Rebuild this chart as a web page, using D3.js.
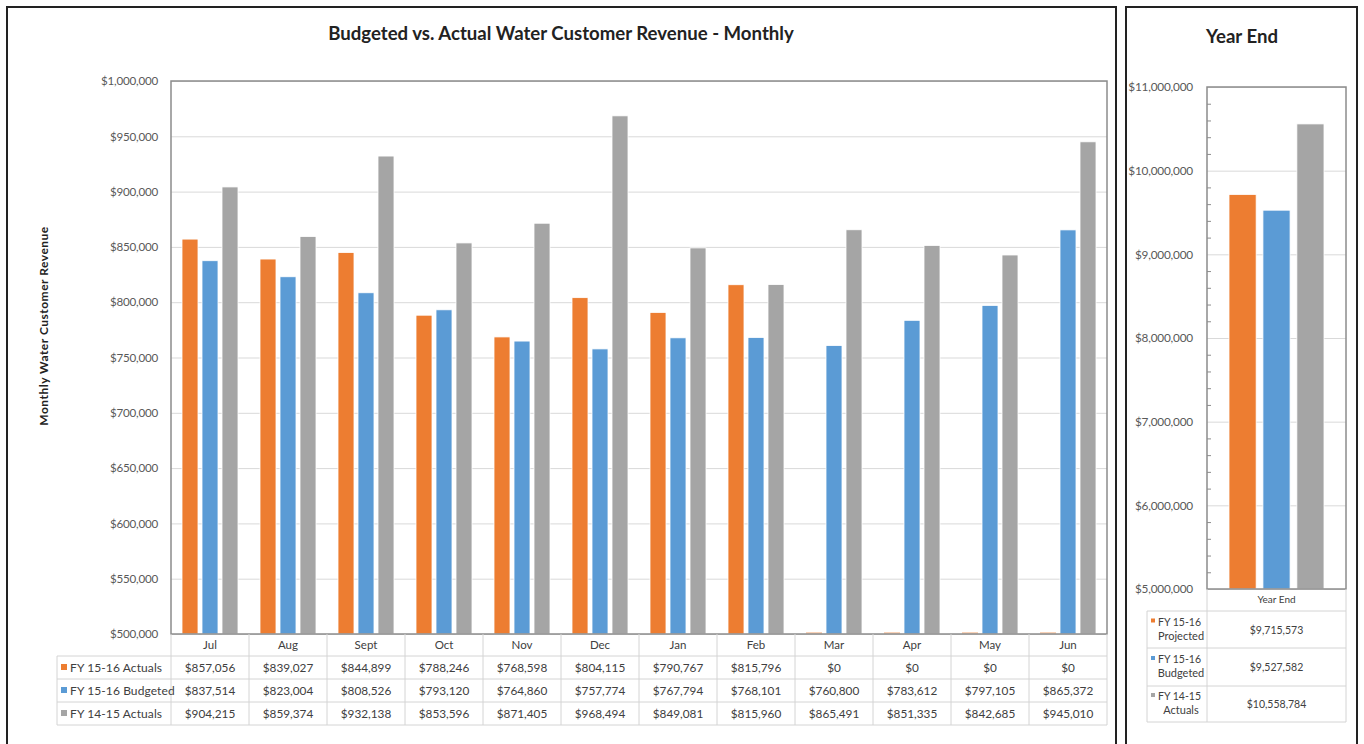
<!DOCTYPE html>
<html>
<head>
<meta charset="utf-8">
<script src="https://cdnjs.cloudflare.com/ajax/libs/d3/7.8.5/d3.min.js"></script>
<style>
  body { margin: 0; background: #fff; }
  svg { font-family: Lato, "Open Sans", sans-serif; }
</style>
</head>
<body>
<div id="chart"></div>
<script>
// Data
var months = ["Jul", "Aug", "Sept", "Oct", "Nov", "Dec", "Jan", "Feb", "Mar", "Apr", "May", "Jun"];
var seriesNames = ["FY 15-16 Actuals", "FY 15-16 Budgeted", "FY 14-15 Actuals"];
var fy1516Actuals = [857056, 839027, 844899, 788246, 768598, 804115, 790767, 815796, 0, 0, 0, 0];
var fy1516Budgeted = [837514, 823004, 808526, 793120, 764860, 757774, 767794, 768101, 760800, 783612, 797105, 865372];
var fy1415Actuals = [904215, 859374, 932138, 853596, 871405, 968494, 849081, 815960, 865491, 851335, 842685, 945010];
var monthlyTicks = [500000, 550000, 600000, 650000, 700000, 750000, 800000, 850000, 900000, 950000, 1000000];

var yearEndCategory = ["Year End"];
var yearEndNames = [["FY 15-16", "Projected"], ["FY 15-16", "Budgeted"], ["FY 14-15", "Actuals"]];
var yearEndValues = [9715573, 9527582, 10558784];
var yearEndTicks = [5000000, 6000000, 7000000, 8000000, 9000000, 10000000, 11000000];
var yearEndMinor = [5200000, 5400000, 5600000, 5800000, 6200000, 6400000, 6600000, 6800000,
  7200000, 7400000, 7600000, 7800000, 8200000, 8400000, 8600000, 8800000,
  9200000, 9400000, 9600000, 9800000, 10200000, 10400000, 10600000, 10800000];

var colors = ["#ED7D31", "#5B9BD5", "#A5A5A5"];
var fmt = d3.format("$,");

var svgWidth = 1364, svgHeight = 744;
var svg = d3.select("#chart").append("svg")
  .attr("width", svgWidth)
  .attr("height", svgHeight);

// frames
svg.append("rect").attr("x", 7).attr("y", 7).attr("width", 1109).attr("height", 760)
  .attr("fill", "none").attr("stroke", "#222").attr("stroke-width", 2);
svg.append("rect").attr("x", 1126).attr("y", 7).attr("width", 231).attr("height", 760)
  .attr("fill", "none").attr("stroke", "#222").attr("stroke-width", 2);

// ---------- Monthly chart ----------
var m = { left: 171, top: 81, right: 1107, bottom: 634 };
var chartWidth = m.right - m.left, chartHeight = m.bottom - m.top;
var g = svg.append("g").attr("transform", `translate(${m.left}, ${m.top})`);

svg.append("text")
  .attr("x", 561).attr("y", 40)
  .attr("text-anchor", "middle")
  .attr("font-weight", "bold")
  .attr("font-size", 18.6)
  .attr("fill", "#222")
  .text("Budgeted vs. Actual Water Customer Revenue - Monthly");

var x0 = d3.scaleBand().domain(months).range([0, chartWidth]).paddingInner(0).paddingOuter(0);
var x1 = d3.scaleBand().domain(seriesNames).range([11, x0.bandwidth() - 11]).paddingInner(0.2);
var y = d3.scaleLinear().domain([500000, 1000000]).range([chartHeight, 0]);

// gridlines
g.append("g")
  .call(d3.axisLeft(y).tickValues(monthlyTicks).tickSize(-chartWidth).tickFormat(""))
  .call(s => s.select(".domain").remove())
  .call(s => s.selectAll("line").attr("stroke", "#d9d9d9"));

// y labels
g.append("g")
  .call(d3.axisLeft(y).tickValues(monthlyTicks).tickSize(0).tickPadding(13).tickFormat(fmt))
  .call(s => s.select(".domain").remove())
  .call(s => s.selectAll("text").attr("font-family", "Lato").attr("font-size", 11.6).attr("fill", "#595959")
    .attr("letter-spacing", "-0.2px"));

var rows = months.map(function(mo, i) {
  return { month: mo, values: [fy1516Actuals[i], fy1516Budgeted[i], fy1415Actuals[i]] };
});

var groups = g.selectAll(".month").data(rows).enter().append("g")
  .attr("transform", d => `translate(${x0(d.month)},0)`);

groups.selectAll("rect").data(d => d.values.map((v, i) => ({ v: v, s: seriesNames[i], c: colors[i] })))
  .enter().append("rect")
  .attr("x", d => x1(d.s))
  .attr("width", x1.bandwidth())
  .attr("y", d => d.v > 0 ? y(d.v) : chartHeight - 2)
  .attr("height", d => d.v > 0 ? chartHeight - y(d.v) : 2)
  .attr("fill", d => d.c)
  .attr("opacity", d => d.v > 0 ? 1 : 0.35)
  .attr("stroke", "#fff")
  .attr("stroke-width", d => d.v > 0 ? 0.8 : 0);

// plot border
g.append("rect").attr("width", chartWidth).attr("height", chartHeight)
  .attr("fill", "none").attr("stroke", "#8c8c8c").attr("stroke-width", 1.5);

// data table
var rowH = [22, 23, 23, 23];
var tableTop = m.bottom;
var legendLeft = 57;
var tg = svg.append("g");
var rowY = [tableTop];
rowH.forEach((h, i) => rowY.push(rowY[i] + h));
var gridColor = "#d4d4d4";

rowY.forEach(function(yy, i) {
  tg.append("line")
    .attr("x1", i === 0 ? m.left : legendLeft).attr("x2", m.right)
    .attr("y1", yy).attr("y2", yy).attr("stroke", i === 0 ? "none" : gridColor);
});
months.forEach(function(mo, i) {
  tg.append("line").attr("x1", m.left + x0(mo)).attr("x2", m.left + x0(mo))
    .attr("y1", rowY[0]).attr("y2", rowY[4]).attr("stroke", gridColor);
});
tg.append("line").attr("x1", m.right).attr("x2", m.right).attr("y1", rowY[0]).attr("y2", rowY[4]).attr("stroke", gridColor);
tg.append("line").attr("x1", legendLeft).attr("x2", legendLeft).attr("y1", rowY[1]).attr("y2", rowY[4]).attr("stroke", gridColor);

tg.selectAll(".mlab").data(months).enter().append("text")
  .attr("x", d => m.left + x0(d) + x0.bandwidth() / 2)
  .attr("y", rowY[0] + 15)
  .attr("text-anchor", "middle").attr("font-size", 11.5).attr("fill", "#404040")
  .text(d => d);

var seriesData = [fy1516Actuals, fy1516Budgeted, fy1415Actuals];
seriesData.forEach(function(vals, r) {
  var cy = rowY[r + 1] + 16;
  tg.append("rect").attr("x", 61).attr("y", cy - 8).attr("width", 6).attr("height", 6).attr("fill", colors[r]);
  tg.append("text").attr("x", 70).attr("y", cy).attr("font-size", 12).attr("fill", "#404040")
    .attr("letter-spacing", "0.1px").text(seriesNames[r]);
  tg.selectAll(".v" + r).data(vals).enter().append("text")
    .attr("x", (d, i) => m.left + x0(months[i]) + x0.bandwidth() / 2)
    .attr("y", cy)
    .attr("text-anchor", "middle").attr("font-size", 11.8).attr("fill", "#404040")
    .text(d => fmt(d));
});

// y axis title
svg.append("text")
  .attr("transform", "translate(48, 326) rotate(-90)")
  .attr("text-anchor", "middle")
  .attr("font-weight", "bold").attr("font-size", 12).attr("fill", "#222")
  .attr("letter-spacing", "0.5px")
  .text("Monthly Water Customer Revenue");

// ---------- Year End chart ----------
var r = { left: 1207, top: 87, right: 1346, bottom: 589 };
var rw = r.right - r.left, rh = r.bottom - r.top;
var rg = svg.append("g").attr("transform", `translate(${r.left}, ${r.top})`);

svg.append("text")
  .attr("x", 1242).attr("y", 43)
  .attr("text-anchor", "middle").attr("font-weight", "bold").attr("font-size", 18.6).attr("fill", "#222")
  .text("Year End");

var yx0 = d3.scaleBand().domain(yearEndCategory).range([0, rw]);
var yx1 = d3.scaleBand().domain(d3.range(yearEndValues.length)).range([22, rw - 22]).paddingInner(0.2);
var yy = d3.scaleLinear().domain([5000000, 11000000]).range([rh, 0]);

rg.append("g")
  .call(d3.axisLeft(yy).tickValues(yearEndTicks).tickSize(-rw).tickFormat(""))
  .call(s => s.select(".domain").remove())
  .call(s => s.selectAll("line").attr("stroke", "#d9d9d9"));

rg.append("g")
  .call(d3.axisLeft(yy).tickValues(yearEndMinor).tickSize(-4).tickFormat(""))
  .call(s => s.select(".domain").remove())
  .call(s => s.selectAll("line").attr("stroke", "#8c8c8c"));

rg.append("g")
  .call(d3.axisLeft(yy).tickValues(yearEndTicks).tickSize(0).tickPadding(14).tickFormat(fmt))
  .call(s => s.select(".domain").remove())
  .call(s => s.selectAll("text").attr("font-family", "Lato").attr("font-size", 11.8).attr("fill", "#595959")
    .attr("letter-spacing", "-0.2px"));

rg.selectAll(".ybar").data(yearEndValues).enter().append("rect")
  .attr("x", (d, i) => yx0("Year End") + yx1(i))
  .attr("width", yx1.bandwidth())
  .attr("y", d => yy(d))
  .attr("height", d => rh - yy(d))
  .attr("fill", (d, i) => colors[i])
  .attr("stroke", "#fff").attr("stroke-width", 0.8);

rg.append("rect").attr("width", rw).attr("height", rh)
  .attr("fill", "none").attr("stroke", "#8c8c8c").attr("stroke-width", 1.5);

// year end table
var yrowY = [r.bottom, 611, 648, 686, 722];
var ylegLeft = 1147;
var yt = svg.append("g");
yrowY.forEach(function(v, i) {
  yt.append("line").attr("x1", i === 0 ? r.left : ylegLeft).attr("x2", r.right)
    .attr("y1", v).attr("y2", v).attr("stroke", i === 0 ? "none" : gridColor);
});
[r.left, r.right].forEach(function(v) {
  yt.append("line").attr("x1", v).attr("x2", v).attr("y1", yrowY[0]).attr("y2", yrowY[4]).attr("stroke", gridColor);
});
yt.append("line").attr("x1", ylegLeft).attr("x2", ylegLeft).attr("y1", yrowY[1]).attr("y2", yrowY[4]).attr("stroke", gridColor);

yt.append("text").attr("x", r.left + yx0.bandwidth() / 2).attr("y", yrowY[0] + 14)
  .attr("text-anchor", "middle").attr("font-size", 10).attr("fill", "#404040").text(yearEndCategory[0]);

yearEndValues.forEach(function(v, i) {
  var top = yrowY[i + 1], bot = yrowY[i + 2], mid = (top + bot) / 2;
  yt.append("rect").attr("x", 1151).attr("y", mid - 11).attr("width", 4).attr("height", 4).attr("fill", colors[i]);
  yt.append("text").attr("x", 1158).attr("y", mid - 4)
    .attr("font-size", 10.5).attr("fill", "#404040").text(yearEndNames[i][0]);
  yt.append("text").attr("x", 1181).attr("y", mid + 10).attr("text-anchor", "middle")
    .attr("font-size", 11).attr("fill", "#404040").text(yearEndNames[i][1]);
  yt.append("text").attr("x", r.left + rw / 2).attr("y", mid + 4).attr("text-anchor", "middle")
    .attr("font-size", 10.5).attr("fill", "#404040").text(fmt(v));
});
</script>
</body>
</html>
